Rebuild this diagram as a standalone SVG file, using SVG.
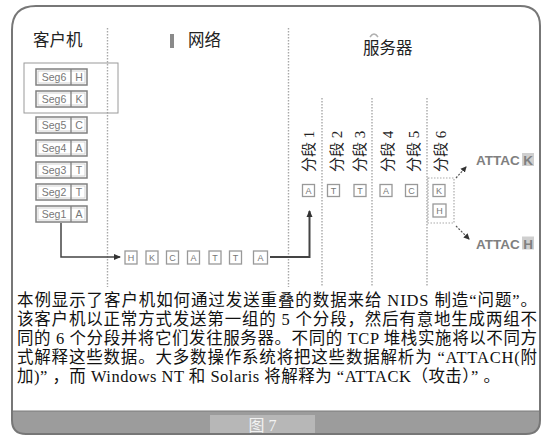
<svg xmlns="http://www.w3.org/2000/svg" width="546" height="436" viewBox="0 0 546 436">
<defs>
<marker id="ah" markerWidth="8" markerHeight="8" refX="6" refY="4" orient="auto" markerUnits="userSpaceOnUse"><path d="M0,1 L7,4 L0,7 Z" fill="#333"/></marker>
<marker id="ah2" markerWidth="7" markerHeight="7" refX="5" refY="3.5" orient="auto" markerUnits="userSpaceOnUse"><path d="M0,0.5 L6,3.5 L0,6.5 Z" fill="#333"/></marker>
</defs>
<style>
.dot{stroke:#a8a8a8;stroke-width:1.4;stroke-dasharray:1.5 1.5;fill:none}
.hdr{font-family:"Liberation Serif","Noto Sans CJK SC",serif;font-size:16.5px;fill:#222}
.o{fill:#fff;stroke:#808080;stroke-width:1.5}
.in{fill:none;stroke:#c8c8c8;stroke-width:0.8}
.st{font-family:"Liberation Sans",Arial,sans-serif;font-size:10.5px;fill:#777;text-anchor:middle}
.bx{fill:#fff;stroke:#999;stroke-width:1.3}
.lt{font-family:"Liberation Sans",Arial,sans-serif;font-size:9px;fill:#777;text-anchor:middle}
.col{font-family:"Liberation Serif","Noto Sans CJK SC",serif;font-size:15px;fill:#222}
.att{font-family:"Liberation Sans",Arial,sans-serif;font-size:13.5px;font-weight:bold;fill:#808080}
.para{font-family:"Liberation Serif","Noto Sans CJK SC",serif;font-size:16.5px;fill:#111}
.conn{fill:none;stroke:#444;stroke-width:1.5}
</style>

<g id="frame">
<path d="M12,434 V30 Q12,6 36,6 H520 Q540,6 540,26 V434 Z" fill="#fff"/>
<path d="M12,411 H540 V420 Q540,434 526,434 H26 Q12,434 12,420 Z" fill="#9c9c9c"/>
<line x1="12" y1="411" x2="540" y2="411" stroke="#7a7a7a" stroke-width="1"/>
<rect x="210" y="415" width="105" height="19" fill="#b7b7b7"/>
<text x="262.5" y="431" font-family="Liberation Serif,'Noto Sans CJK SC',serif" font-size="16" fill="#f2f2f2" text-anchor="middle">图 7</text>
<path d="M12,420 V30 Q12,6 36,6 H520 Q540,6 540,26 V420 Q540,434 526,434 H26 Q12,434 12,420" fill="none" stroke="#777" stroke-width="2"/>
</g>

<g id="dividers">
<line class="dot" x1="107.5" y1="28" x2="107.5" y2="287"/>
<line class="dot" x1="288.5" y1="28" x2="288.5" y2="287"/>
<line class="dot" x1="322" y1="98" x2="322" y2="287"/>
<line class="dot" x1="372" y1="98" x2="372" y2="287"/>
<line class="dot" x1="427" y1="98" x2="427" y2="287"/>
</g>

<g id="headers">
<text class="hdr" x="33" y="46">客户机</text>
<rect x="170" y="34" width="4" height="14" fill="#8a8a8a"/>
<text class="hdr" x="188" y="46">网络</text>
<path d="M370,37 Q374,31 378,37" fill="none" stroke="#b0b0b0" stroke-width="1.5"/>
<text class="hdr" x="363" y="54">服务器</text>
</g>

<g id="overlap-box"><rect x="24" y="63" width="94" height="50" fill="none" stroke="#9a9a9a" stroke-width="1"/></g>

<g id="seg6h"><rect class="o" x="36" y="69" width="51" height="16"/><rect class="in" x="38" y="71" width="47" height="12"/><line x1="71" y1="69" x2="71" y2="85" stroke="#808080" stroke-width="1.3"/><text class="st" x="54" y="81">Seg6</text><text class="st" x="79" y="81">H</text></g>
<g id="seg6k"><rect class="o" x="36" y="91" width="51" height="16"/><rect class="in" x="38" y="93" width="47" height="12"/><line x1="71" y1="91" x2="71" y2="107" stroke="#808080" stroke-width="1.3"/><text class="st" x="54" y="103">Seg6</text><text class="st" x="79" y="103">K</text></g>
<g id="seg5"><rect class="o" x="36" y="117" width="51" height="16"/><rect class="in" x="38" y="119" width="47" height="12"/><line x1="71" y1="117" x2="71" y2="133" stroke="#808080" stroke-width="1.3"/><text class="st" x="54" y="129">Seg5</text><text class="st" x="79" y="129">C</text></g>
<g id="seg4"><rect class="o" x="36" y="140" width="51" height="16"/><rect class="in" x="38" y="142" width="47" height="12"/><line x1="71" y1="140" x2="71" y2="156" stroke="#808080" stroke-width="1.3"/><text class="st" x="54" y="152">Seg4</text><text class="st" x="79" y="152">A</text></g>
<g id="seg3"><rect class="o" x="36" y="162" width="51" height="16"/><rect class="in" x="38" y="164" width="47" height="12"/><line x1="71" y1="162" x2="71" y2="178" stroke="#808080" stroke-width="1.3"/><text class="st" x="54" y="174">Seg3</text><text class="st" x="79" y="174">T</text></g>
<g id="seg2"><rect class="o" x="36" y="184" width="51" height="16"/><rect class="in" x="38" y="186" width="47" height="12"/><line x1="71" y1="184" x2="71" y2="200" stroke="#808080" stroke-width="1.3"/><text class="st" x="54" y="196">Seg2</text><text class="st" x="79" y="196">T</text></g>
<g id="seg1"><rect class="o" x="36" y="206" width="51" height="16"/><rect class="in" x="38" y="208" width="47" height="12"/><line x1="71" y1="206" x2="71" y2="222" stroke="#808080" stroke-width="1.3"/><text class="st" x="54" y="218">Seg1</text><text class="st" x="79" y="218">A</text></g>

<g id="packet">
<rect class="bx" x="125" y="251" width="12" height="13"/><text class="lt" x="131" y="260.5">H</text>
<rect class="bx" x="146" y="251" width="12" height="13"/><text class="lt" x="152" y="260.5">K</text>
<rect class="bx" x="166.5" y="251" width="12" height="13"/><text class="lt" x="172.5" y="260.5">C</text>
<rect class="bx" x="187.5" y="251" width="12" height="13"/><text class="lt" x="193.5" y="260.5">A</text>
<rect class="bx" x="209" y="251" width="12" height="13"/><text class="lt" x="215" y="260.5">T</text>
<rect class="bx" x="229.5" y="251" width="12" height="13"/><text class="lt" x="235.5" y="260.5">T</text>
<rect class="bx" x="253.5" y="251" width="14" height="13"/><text class="lt" x="260.5" y="260.5">A</text>
</g>

<g id="col-labels">
<text class="col" transform="translate(308.5,172) rotate(-90)" dominant-baseline="central">分段 1</text>
<text class="col" transform="translate(336.5,172) rotate(-90)" dominant-baseline="central">分段 2</text>
<text class="col" transform="translate(360,172) rotate(-90)" dominant-baseline="central">分段 3</text>
<text class="col" transform="translate(387.5,172) rotate(-90)" dominant-baseline="central">分段 4</text>
<text class="col" transform="translate(413.5,172) rotate(-90)" dominant-baseline="central">分段 5</text>
<text class="col" transform="translate(441,172) rotate(-90)" dominant-baseline="central">分段 6</text>
</g>

<g id="server-segs">
<rect class="bx" x="302.5" y="184.5" width="12" height="12"/><text class="lt" x="308.5" y="193.5">A</text>
<rect class="bx" x="327.5" y="184.5" width="12" height="12"/><text class="lt" x="333.5" y="193.5">T</text>
<rect class="bx" x="354" y="184.5" width="12" height="12"/><text class="lt" x="360" y="193.5">T</text>
<rect class="bx" x="380" y="184.5" width="12" height="12"/><text class="lt" x="386" y="193.5">A</text>
<rect class="bx" x="405.5" y="184.5" width="12" height="12"/><text class="lt" x="411.5" y="193.5">C</text>
<rect class="bx" x="433" y="184.5" width="12" height="12"/><text class="lt" x="439" y="193.5">K</text>
<rect class="bx" x="433" y="204" width="13" height="13"/><text class="lt" x="439.5" y="213.5">H</text>
<rect x="428" y="178" width="26" height="45" fill="none" stroke="#aaa" stroke-width="1.2" stroke-dasharray="1.5 1.5"/>
</g>

<g id="results">
<text class="att" x="476" y="165">ATTAC</text>
<rect x="522" y="153" width="12" height="13" fill="#cfcfcf"/>
<text class="att" x="528" y="165" text-anchor="middle" fill="#555">K</text>
<text class="att" x="476" y="248.5">ATTAC</text>
<rect x="522" y="236.5" width="12" height="13" fill="#cfcfcf"/>
<text class="att" x="528" y="248.5" text-anchor="middle" fill="#555">H</text>
</g>

<g id="connectors">
<path class="conn" d="M61,223 V257 H120" marker-end="url(#ah)"/>
<path d="M270,257 H309.5 V211" fill="none" stroke="#444" stroke-width="2" marker-end="url(#ah)"/>
<path d="M456,178 L466,167" fill="none" stroke="#555" stroke-width="1.2" stroke-dasharray="2 1.5" marker-end="url(#ah2)"/>
<path d="M456,226 L469,239" fill="none" stroke="#555" stroke-width="1.2" stroke-dasharray="2 1.5" marker-end="url(#ah2)"/>
</g>

<g id="caption">
<text class="para" x="17" y="306" textLength="520" lengthAdjust="spacing">本例显示了客户机如何通过发送重叠的数据来给 NIDS 制造“问题”。</text>
<text class="para" x="17" y="325" textLength="520" lengthAdjust="spacing">该客户机以正常方式发送第一组的 5 个分段，然后有意地生成两组不</text>
<text class="para" x="17" y="344" textLength="520" lengthAdjust="spacing">同的 6 个分段并将它们发往服务器。不同的 TCP 堆栈实施将以不同方</text>
<text class="para" x="17" y="363" textLength="520" lengthAdjust="spacing">式解释这些数据。大多数操作系统将把这些数据解析为 “ATTACH(附</text>
<text class="para" x="17" y="382" textLength="483" lengthAdjust="spacing">加)” ，而 Windows NT 和 Solaris 将解释为 “ATTACK（攻击）” 。</text>
</g>
</svg>
